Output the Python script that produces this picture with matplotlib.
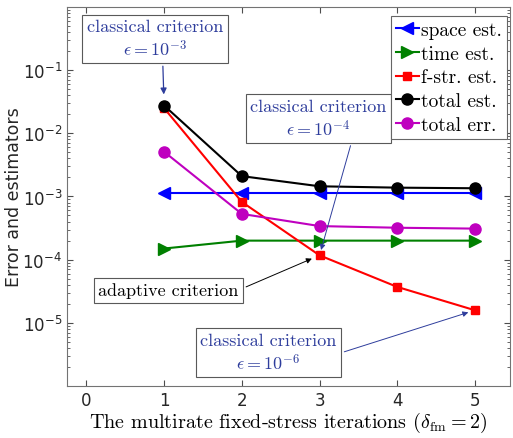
import matplotlib
matplotlib.use("Agg")
import matplotlib.pyplot as plt
from matplotlib.ticker import NullFormatter, LogLocator

# data
iters = [1, 2, 3, 4, 5]
space_est = [1.12e-3, 1.12e-3, 1.12e-3, 1.12e-3, 1.12e-3]
time_est = [1.5e-4, 2.0e-4, 2.0e-4, 2.0e-4, 2.0e-4]
fstr_est = [2.5e-2, 8.2e-4, 1.17e-4, 3.7e-5, 1.58e-5]
total_est = [2.75e-2, 2.1e-3, 1.45e-3, 1.38e-3, 1.35e-3]
total_err = [5.1e-3, 5.3e-4, 3.4e-4, 3.2e-4, 3.1e-4]

xticks = [0, 1, 2, 3, 4, 5]
yticks = [1e-5, 1e-4, 1e-3, 1e-2, 1e-1]
ytick_labels = [r'$10^{-5}$', r'$10^{-4}$', r'$10^{-3}$', r'$10^{-2}$', r'$10^{-1}$']

serif = 'cmr10'
note_blue = '#2e3d9c'

fig = plt.figure(figsize=(5.13, 4.39), dpi=100)
ax = fig.add_axes([0.1306, 0.1185, 0.8634, 0.8633])

ax.semilogy(iters, space_est, '-<', color=(0, 0, 1), lw=1.5, ms=8, label='space est.')
ax.semilogy(iters, time_est, '->', color=(0, 0.5, 0), lw=1.5, ms=8, label='time est.')
ax.semilogy(iters, fstr_est, '-s', color=(1, 0, 0), lw=1.5, ms=6, label='f-str. est.')
ax.semilogy(iters, total_est, '-o', color='k', lw=1.5, ms=8, label='total est.')
ax.semilogy(iters, total_err, '-o', color=(0.75, 0, 0.75), lw=1.5, ms=8, label='total err.')

ax.set_xlim(-0.25, 5.45)
ax.set_ylim(1e-6, 1.0)
ax.set_xticks(xticks)
ax.set_xticklabels([str(t) for t in xticks], fontsize=12, color='0.15')
ax.set_yticks(yticks)
ax.set_yticklabels(ytick_labels, fontsize=12, color='0.15', math_fontfamily='dejavusans')
ax.yaxis.set_minor_locator(LogLocator(base=10, subs=range(2, 10), numticks=20))
ax.yaxis.set_minor_formatter(NullFormatter())
ax.tick_params(which='both', direction='in', top=True, right=True, color='0.3')
ax.tick_params(which='major', length=4)
ax.tick_params(which='minor', length=2)
for s in ax.spines.values():
    s.set_color('0.45')

ax.set_ylabel('Error and estimators', fontsize=12.5, color='0.15')
ax.yaxis.set_label_coords(-0.099, 0.5)
ax.set_xlabel(r'The multirate fixed-stress iterations ($\delta_{\rm fm} = 2$)',
              fontsize=14.5, family=serif, math_fontfamily='cm', labelpad=1)

leg = ax.legend(loc='upper right', bbox_to_anchor=(0.993, 0.976),
                prop={'family': serif, 'size': 14},
                handlelength=1.2, handletextpad=0.1, borderpad=0.25,
                labelspacing=0.3, fancybox=False, edgecolor='0.4',
                borderaxespad=0, framealpha=1)
leg.get_frame().set_linewidth(0.8)

box = dict(boxstyle='square,pad=0.25', fc='white', ec='0.35', lw=0.8)

ax.annotate('classical criterion\n' + r'$\epsilon = 10^{-3}$',
            xy=(iters[0], total_est[0]), xycoords='data',
            xytext=(0.199, 0.916), textcoords='axes fraction',
            ha='center', va='center', fontsize=13, family=serif,
            math_fontfamily='cm', color=note_blue, bbox=box,
            arrowprops=dict(arrowstyle='-|>', color=note_blue, lw=0.9,
                            mutation_scale=9, relpos=(0.555, 0), shrinkB=8))

ax.annotate('classical criterion\n' + r'$\epsilon = 10^{-4}$',
            xy=(iters[2], fstr_est[2]), xycoords='data',
            xytext=(0.568, 0.706), textcoords='axes fraction',
            ha='center', va='center', fontsize=13, family=serif,
            math_fontfamily='cm', color=note_blue, bbox=box,
            arrowprops=dict(arrowstyle='-|>', color=note_blue, lw=0.7,
                            mutation_scale=8, relpos=(0.75, 0), shrinkB=4))

ax.annotate('adaptive criterion',
            xy=(iters[2], fstr_est[2]), xycoords='data',
            xytext=(0.229, 0.253), textcoords='axes fraction',
            ha='center', va='center', fontsize=13, family=serif,
            color='k', bbox=box,
            arrowprops=dict(arrowstyle='-|>', color='k', lw=0.7,
                            mutation_scale=8, relpos=(1, 0.5), shrinkB=6))

ax.annotate('classical criterion\n' + r'$\epsilon = 10^{-6}$',
            xy=(iters[4], fstr_est[4]), xycoords='data',
            xytext=(0.455, 0.088), textcoords='axes fraction',
            ha='center', va='center', fontsize=13, family=serif,
            math_fontfamily='cm', color=note_blue, bbox=box,
            arrowprops=dict(arrowstyle='-|>', color=note_blue, lw=0.7,
                            mutation_scale=8, relpos=(1, 0.46), shrinkB=5))

fig.savefig('out.png', dpi=100)
